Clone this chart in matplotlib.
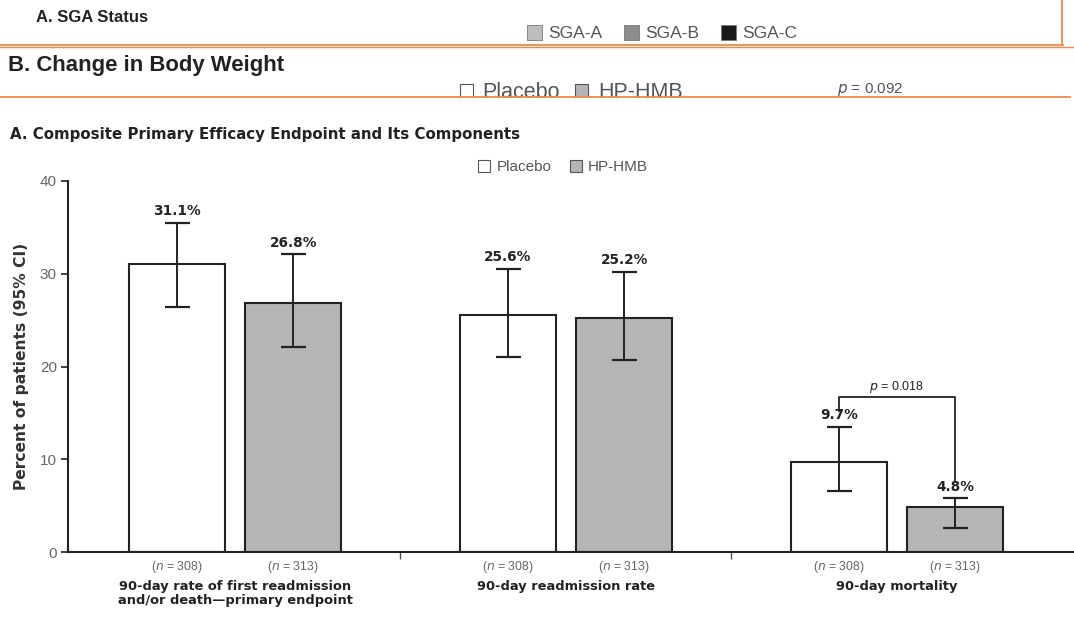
import numpy as np
import matplotlib.pyplot as plt
from matplotlib.patches import Rectangle, Patch
from matplotlib.lines import Line2D

plt.rcParams['font.family'] = ['Liberation Sans', 'DejaVu Sans']

# Data
categories = ['90-day rate of first readmission\nand/or death\u2014primary endpoint',
              '90-day readmission rate',
              '90-day mortality']
groups = ['Placebo', 'HP-HMB']
placebo = [31.1, 25.6, 9.7]
hmb = [26.8, 25.2, 4.8]
placebo_lo = [26.4, 21.0, 6.6]
placebo_hi = [35.5, 30.5, 13.5]
hmb_lo = [22.1, 20.7, 2.6]
hmb_hi = [32.1, 30.2, 5.8]
n_placebo = 308
n_hmb = 313
sga_labels = ['SGA-A', 'SGA-B', 'SGA-C']
sga_colors = ['#bdbdbd', '#8c8c8c', '#1a1a1a']

W, H = 1074, 630
fig = plt.figure(figsize=(W / 100, H / 100), dpi=100)

def fx(px):
    return px / W

def fy(py):
    return 1 - py / H

txt = '#222222'
light = '#555555'
bar_gray = '#b5b5b7'
orange = '#f08a4b'
wide = ['DejaVu Sans']   # the chart's own bold text is broad and low

# ---- header strips (panel A / B of the collage) ----
fig.text(fx(36), fy(17), 'A. SGA Status', fontsize=12, fontweight='bold', color=txt, va='center')
x0 = 527
for lab, col in zip(sga_labels, sga_colors):
    fig.patches.append(Rectangle((fx(x0), fy(40)), fx(15), 15 / H, transform=fig.transFigure,
                                 facecolor=col, edgecolor='#777777', lw=0.6))
    fig.text(fx(x0 + 21), fy(33), lab, fontsize=12.5, color=light, va='center')
    x0 += 97

fig.text(fx(8), fy(66), 'B. Change in Body Weight', fontsize=15.9, fontweight='bold', color=txt, va='center')
fig.patches.append(Rectangle((fx(460), fy(100)), fx(13), 16 / H, transform=fig.transFigure,
                             facecolor='white', edgecolor='#555555', lw=0.8))
fig.text(fx(482), fy(93), 'Placebo', fontsize=15.5, color=light, va='center')
fig.patches.append(Rectangle((fx(575), fy(100)), fx(13), 16 / H, transform=fig.transFigure,
                             facecolor=bar_gray, edgecolor='#555555', lw=0.8))
fig.text(fx(598), fy(93), 'HP-HMB', fontsize=15.5, color=light, va='center')
fig.text(fx(837), fy(89), r'$p$ = 0.092', fontsize=11, color=light, va='center')
# cover whatever hangs below the lower border
fig.patches.append(Rectangle((0, 0), 1, fy(98), transform=fig.transFigure,
                             facecolor='white', edgecolor='none', zorder=4))

fig.add_artist(Line2D([0, fx(1063)], [fy(45), fy(45)], color=orange, lw=1.3, zorder=6))
fig.add_artist(Line2D([fx(1062), fx(1062)], [1, fy(45)], color=orange, lw=1.3, zorder=6))
fig.add_artist(Line2D([0, 1], [fy(47), fy(47)], color=orange, lw=1.0, zorder=6))
fig.add_artist(Line2D([0, fx(1070)], [fy(97), fy(97)], color=orange, lw=1.3, zorder=6))

# ---- main chart ----
fig.text(fx(10), fy(134), 'A. Composite Primary Efficacy Endpoint and Its Components',
         fontsize=10.85, fontweight='bold', family=wide, color=txt, va='center', zorder=7)

ax = fig.add_axes([fx(68), fy(552), 1 - fx(68), fy(181) - fy(552)], zorder=8)
ax.patch.set_alpha(0)

x = np.arange(len(categories))
off = 0.176
bw = 0.29
err_p = [np.array(placebo) - np.array(placebo_lo), np.array(placebo_hi) - np.array(placebo)]
err_h = [np.array(hmb) - np.array(hmb_lo), np.array(hmb_hi) - np.array(hmb)]

ax.bar(x - off, placebo, bw, color='white', edgecolor='#222222', lw=1.5, zorder=2)
ax.bar(x + off, hmb, bw, color=bar_gray, edgecolor='#222222', lw=1.5, zorder=2)
ax.errorbar(x - off, placebo, yerr=err_p, fmt='none', ecolor='#222222', elinewidth=1.4,
            capsize=9, capthick=1.6, zorder=3)
ax.errorbar(x + off, hmb, yerr=err_h, fmt='none', ecolor='#222222', elinewidth=1.4,
            capsize=9, capthick=1.6, zorder=3)

for xi, v, hi in zip(x - off, placebo, placebo_hi):
    ax.text(xi, hi + 0.5, f'{v}%', ha='center', va='bottom', fontsize=9.8, fontweight='bold',
            family=wide, color=txt)
for xi, v, hi in zip(x + off, hmb, hmb_hi):
    ax.text(xi, hi + 0.5, f'{v}%', ha='center', va='bottom', fontsize=9.8, fontweight='bold',
            family=wide, color=txt)

# significance bracket for mortality
xl, xr = x[2] - off, x[2] + off
ax.plot([xl, xl, xr, xr], [15.2, 16.7, 16.7, 7.7], color='#222222', lw=1.3, zorder=3)
ax.text((xl + xr) / 2, 16.9, r'$p$ = 0.018', ha='center', va='bottom', fontsize=9, color=txt)

ax.set_xlim(-0.5045, 2.535)
ax.set_ylim(0, 40)
ax.set_yticks([0, 10, 20, 30, 40])
ax.tick_params(axis='y', length=5, width=1.2, colors='#222222', labelcolor='#666666', labelsize=11, pad=3)
ax.set_xticks([0.5, 1.5])
ax.set_xticklabels([])
ax.tick_params(axis='x', length=5, width=1.0, direction='out', colors='#555555')
for s in ['top', 'right']:
    ax.spines[s].set_visible(False)
for s in ['left', 'bottom']:
    ax.spines[s].set_linewidth(1.5)
    ax.spines[s].set_color('#222222')
ax.set_ylabel('Percent of patients (95% CI)', fontsize=11.2, fontweight='bold', family=wide,
              color='#333333')
ax.yaxis.set_label_coords(-0.039, 0.5)

for xi in x:
    ax.annotate(f'($n$ = {n_placebo})', (xi - off, 0), xycoords=('data', 'axes fraction'),
                xytext=(0, -11), textcoords='offset points', ha='center', va='center',
                fontsize=8.8, color='#666666')
    ax.annotate(f'($n$ = {n_hmb})', (xi + off, 0), xycoords=('data', 'axes fraction'),
                xytext=(0, -11), textcoords='offset points', ha='center', va='center',
                fontsize=8.8, color='#666666')
for xi, lab in zip(x, categories):
    ax.annotate(lab, (xi, 0), xycoords=('data', 'axes fraction'), xytext=(0, -20),
                textcoords='offset points', ha='center', va='top', fontsize=9.4,
                fontweight='bold', family=wide, color=txt, linespacing=1.15)

handles = [Patch(facecolor='white', edgecolor='#555555', lw=0.8, label=groups[0]),
           Patch(facecolor=bar_gray, edgecolor='#555555', lw=0.8, label=groups[1])]
fig.legend(handles=handles, loc='center', bbox_to_anchor=(fx(563), fy(167)), ncol=2,
           frameon=False, fontsize=11, handlelength=0.8, handleheight=0.8,
           handletextpad=0.4, columnspacing=1.2, labelcolor=light)

fig.savefig('out.png', dpi=100, facecolor='white')
